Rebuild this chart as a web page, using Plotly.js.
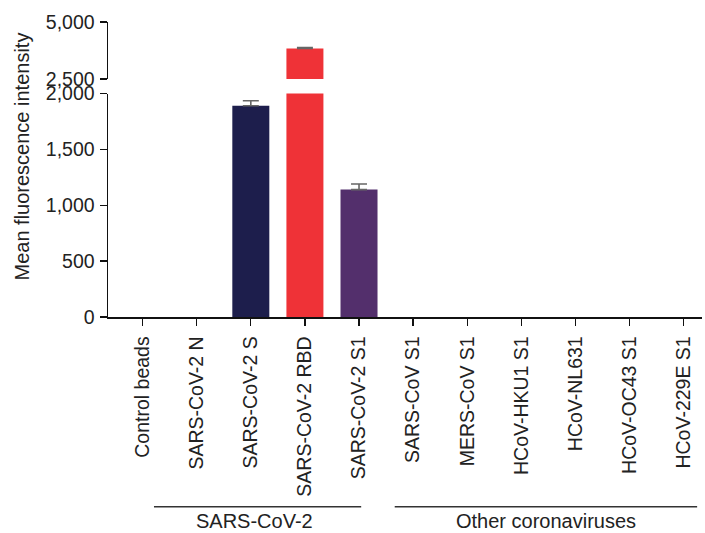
<!DOCTYPE html>
<html><head><meta charset="utf-8">
<script src="https://cdn.plot.ly/plotly-3.0.1.min.js"></script>
<style>html,body{margin:0;padding:0;background:#fff}#c{width:705px;height:533px}</style>
</head><body><div id="c"></div>
<script>
const categories = ["Control beads","SARS-CoV-2 N","SARS-CoV-2 S","SARS-CoV-2 RBD","SARS-CoV-2 S1","SARS-CoV S1","MERS-CoV S1","HCoV-HKU1 S1","HCoV-NL631","HCoV-OC43 S1","HCoV-229E S1"];
const values = [0,0,1890,3840,1140,0,0,0,0,0,0];
const errors = [0,0,45,40,50,0,0,0,0,0,0];
const colors = ["#1d1e4c","#1d1e4c","#1d1e4c","#ef3237","#532f6c","#532f6c","#532f6c","#532f6c","#532f6c","#532f6c","#532f6c"];
const lowerTicks = [0,500,1000,1500,2000];
const upperTicks = [2500,5000];
const groupLabels = ["SARS-CoV-2","Other coronaviruses"];

const breakLow = 2000, breakHigh = 2500;
function pick(test){
  const idx = values.map((v,i)=>i).filter(i=>errors[i] > 0 && test(values[i]));
  return {x: idx.map(i=>categories[i]), y: idx.map(i=>values[i]), e: idx.map(i=>errors[i]), m: idx.map(()=>0)};
}
const lowErr = pick(v => v <= breakLow);
const highErr = pick(v => v >= breakHigh);

const fam = "Liberation Sans, Arial, sans-serif";
const tickFont = {family:fam, size:19.5, color:"#222"};
const catFont = {family:fam, size:19.5, color:"#222"};
const titleFont = {family:fam, size:20, color:"#222"};
const ebStyle = {type:"data", symmetric:false, color:"#666", thickness:1.6, width:8};

const traces = [
  {type:"bar", x:categories, y:values, marker:{color:colors}, xaxis:"x", yaxis:"y", hoverinfo:"none"},
  {type:"bar", x:categories, y:values, marker:{color:colors}, xaxis:"x", yaxis:"y2", hoverinfo:"none"},
  {type:"scatter", mode:"markers", x:lowErr.x, y:lowErr.y, marker:{opacity:0, size:1}, xaxis:"x", yaxis:"y",
   error_y:Object.assign({array:lowErr.e, arrayminus:lowErr.m}, ebStyle), hoverinfo:"none"},
  {type:"scatter", mode:"markers", x:highErr.x, y:highErr.y, marker:{opacity:0, size:1}, xaxis:"x", yaxis:"y2",
   error_y:Object.assign({array:highErr.e, arrayminus:highErr.m}, ebStyle), hoverinfo:"none"}
];

const axisCommon = {showline:true, linecolor:"#111", linewidth:1.5, ticks:"outside", ticklen:7, tickwidth:1.3,
  tickcolor:"#111", showgrid:false, zeroline:false, tickfont:tickFont, tickformat:",d", ticklabelstandoff:1};

const layout = {
  width:705, height:533, showlegend:false,
  paper_bgcolor:"#fff", plot_bgcolor:"#fff",
  margin:{l:108, r:3, t:22, b:216},
  font:tickFont,
  bargap:0.316,
  xaxis:{type:"category", range:[-0.64,10.34], showline:true, linecolor:"#111", linewidth:1.5,
    ticks:"outside", ticklen:7, tickwidth:1.3, tickcolor:"#111", tickangle:-90,
    showgrid:false, zeroline:false, tickfont:catFont, anchor:"y", ticklabelstandoff:3},
  yaxis:Object.assign({domain:[0,0.7576], range:[0,2000], tickvals:lowerTicks}, axisCommon),
  yaxis2:Object.assign({domain:[0.8068,1], range:[2500,5000], tickvals:upperTicks, anchor:"x"}, axisCommon),
  shapes:[
    {type:"line", xref:"x", yref:"paper", x0:0.21, x1:4.04, y0:-0.643, y1:-0.643, line:{color:"#333", width:1.5}},
    {type:"line", xref:"x", yref:"paper", x0:4.66, x1:10.25, y0:-0.643, y1:-0.643, line:{color:"#333", width:1.5}}
  ],
  annotations:[
    {text:groupLabels[0], xref:"x", yref:"paper", x:2.06, y:-0.692, showarrow:false, xanchor:"center", yanchor:"middle", font:titleFont},
    {text:groupLabels[1], xref:"x", yref:"paper", x:7.45, y:-0.692, showarrow:false, xanchor:"center", yanchor:"middle", font:titleFont},
    {text:"Mean fluorescence intensity", xref:"paper", yref:"paper", x:-0.1448, y:0.544, textangle:-90,
     showarrow:false, xanchor:"center", yanchor:"middle", font:titleFont}
  ]
};
Plotly.newPlot("c", traces, layout, {displayModeBar:false, staticPlot:true});
</script></body></html>
